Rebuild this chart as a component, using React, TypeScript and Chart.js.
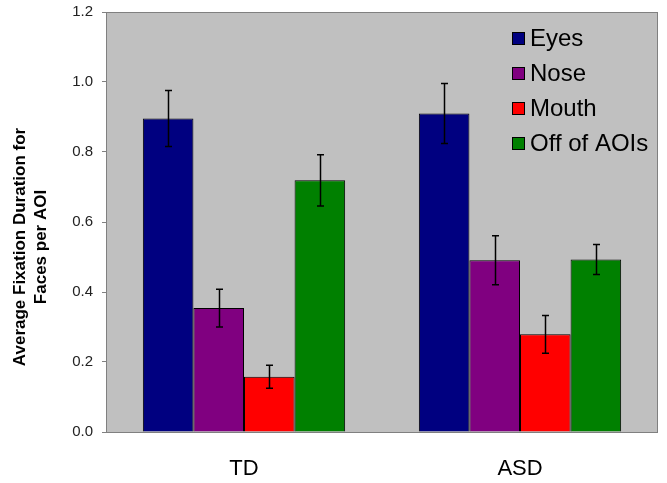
import React, { useEffect, useRef } from "react";
import { Chart, registerables } from "chart.js";

Chart.register(...registerables);

const categories = ["TD", "ASD"];
const seriesNames = ["Eyes", "Nose", "Mouth", "Off of AOIs"];
const seriesColors = ["#000080", "#800080", "#FF0000", "#008000"];
const eyes = [0.896, 0.91];
const nose = [0.354, 0.491];
const mouth = [0.158, 0.279];
const offAOIs = [0.719, 0.493];
const eyesErr = [0.08, 0.086];
const noseErr = [0.054, 0.07];
const mouthErr = [0.033, 0.054];
const offAOIsErr = [0.073, 0.043];
const yTicks = [0, 0.2, 0.4, 0.6, 0.8, 1.0, 1.2];
const yTitle = ["Average Fixation Duration for", "Faces per AOI"];

const FONT = "'Liberation Sans', Arial, Helvetica, sans-serif";

export default function App() {
  const ref = useRef<HTMLCanvasElement | null>(null);

  useEffect(() => {
    document.body.style.margin = "0";
    const values = [eyes, nose, mouth, offAOIs];
    const errs = [eyesErr, noseErr, mouthErr, offAOIsErr];

    const bgPlugin = {
      id: "plotBg",
      beforeDraw(chart: any) {
        const { ctx, chartArea: a } = chart;
        ctx.save();
        ctx.fillStyle = "#C0C0C0";
        ctx.fillRect(a.left, a.top, a.right - a.left, a.bottom - a.top);
        ctx.restore();
      },
      afterDraw(chart: any) {
        const { ctx, chartArea: a } = chart;
        ctx.save();
        ctx.strokeStyle = "#808080";
        ctx.lineWidth = 1;
        ctx.strokeRect(a.left + 0.5, a.top + 0.5, a.right - a.left - 1, a.bottom - a.top);
        ctx.restore();
      },
    };

    const errPlugin = {
      id: "errBars",
      afterDatasetsDraw(chart: any) {
        const { ctx } = chart;
        const y = chart.scales.y;
        ctx.save();
        ctx.strokeStyle = "#000";
        ctx.lineWidth = 1.5;
        chart.data.datasets.forEach((ds: any, di: number) => {
          const meta = chart.getDatasetMeta(di);
          meta.data.forEach((bar: any, i: number) => {
            const v = ds.data[i];
            const e = errs[di][i];
            const x = Math.round(bar.x) + 0.5;
            const yt = y.getPixelForValue(v + e);
            const yb = y.getPixelForValue(v - e);
            ctx.beginPath();
            ctx.moveTo(x, yt);
            ctx.lineTo(x, yb);
            ctx.moveTo(x - 3.5, yt);
            ctx.lineTo(x + 3.5, yt);
            ctx.moveTo(x - 3.5, yb);
            ctx.lineTo(x + 3.5, yb);
            ctx.stroke();
          });
        });
        ctx.restore();
      },
    };

    const legendPlugin = {
      id: "customLegend",
      afterDraw(chart: any) {
        const { ctx } = chart;
        ctx.save();
        ctx.font = `24px ${FONT}`;
        ctx.textBaseline = "middle";
        ctx.textAlign = "left";
        chart.data.datasets.forEach((ds: any, i: number) => {
          const cy = 38 + i * 35;
          ctx.fillStyle = ds.backgroundColor;
          ctx.fillRect(512, cy - 6, 13, 13);
          ctx.strokeStyle = "#000";
          ctx.lineWidth = 1;
          ctx.strokeRect(512.5, cy - 5.5, 12, 12);
          ctx.fillStyle = "#000";
          ctx.fillText(ds.label, 530, cy + 1);
        });
        ctx.restore();
      },
    };

    const titlePlugin = {
      id: "yTitle",
      afterDraw(chart: any) {
        const { ctx } = chart;
        ctx.save();
        ctx.translate(0, 247);
        ctx.rotate(-Math.PI / 2);
        ctx.font = `bold 17px ${FONT}`;
        ctx.fillStyle = "#000";
        ctx.textAlign = "center";
        ctx.textBaseline = "middle";
        ctx.fillText(yTitle[0], 0, 20);
        ctx.fillText(yTitle[1], 0, 41);
        ctx.restore();
      },
    };

    const chart = new Chart(ref.current as HTMLCanvasElement, {
      type: "bar",
      data: {
        labels: categories,
        datasets: seriesNames.map((name, i) => ({
          label: name,
          data: values[i],
          backgroundColor: seriesColors[i],
          borderColor: "#000",
          borderWidth: 1,
          barPercentage: 1,
          categoryPercentage: 0.733,
        })),
      },
      options: {
        animation: false,
        responsive: false,
        layout: { padding: { left: 0, right: 9, top: 12, bottom: 0 } },
        plugins: { legend: { display: false }, tooltip: { enabled: false } },
        scales: {
          x: {
            grid: { display: false, drawTicks: false },
            border: { display: false },
            ticks: {
              color: "#000",
              font: { family: FONT, size: 22 },
              padding: 24,
            },
            afterFit(scale: any) {
              scale.height = 51;
            },
          },
          y: {
            min: 0,
            max: 1.2,
            afterBuildTicks(scale: any) {
              scale.ticks = yTicks.map((v) => ({ value: v }));
            },
            grid: {
              display: true,
              drawOnChartArea: false,
              drawTicks: true,
              tickLength: 4,
              color: "#808080",
            },
            border: { display: false },
            ticks: {
              color: "#222",
              font: { family: FONT, size: 15 },
              padding: 9,
              callback: (v: any) => Number(v).toFixed(1),
            },
            afterFit(scale: any) {
              scale.width = 106;
              scale.paddingTop = 0;
              scale.paddingBottom = 0;
            },
          },
        },
      },
      plugins: [bgPlugin, errPlugin, legendPlugin, titlePlugin],
    });
    return () => chart.destroy();
  }, []);

  return <canvas ref={ref} width={667} height={483} style={{ display: "block" }} />;
}
